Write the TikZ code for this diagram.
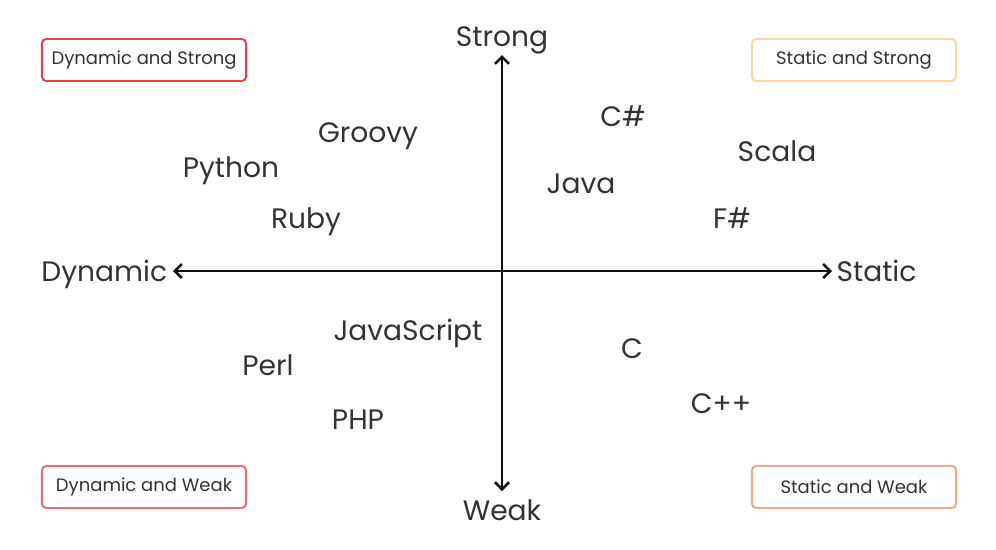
\documentclass[tikz,border=0pt]{standalone}
\usepackage{fontspec}
\setmainfont{Poppins}
\usepackage{xcolor}
\usepackage{tikz}
\usetikzlibrary{positioning,arrows.meta}
\definecolor{ink}{HTML}{333333}
\definecolor{axisc}{HTML}{111111}
\definecolor{dsred}{HTML}{E8414A}
\definecolor{dwred}{HTML}{EE6B6E}
\definecolor{ssorange}{HTML}{F9D6A6}
\definecolor{swsalmon}{HTML}{F4A58C}
\tikzset{
  axis/.style={line width=1.8pt, draw=axisc,
    {Straight Barb[length=5pt,width=10pt]}-{Straight Barb[length=5pt,width=10pt]}},
  axlab/.style={text=ink, font=\fontsize{20}{22}\selectfont, inner sep=0pt, text depth=0pt},
  lang/.style={text=ink, font=\fontsize{20}{22}\selectfont, inner sep=0pt, text depth=0pt},
  quad/.style={line width=1.4pt, rounded corners=3pt, fill=white,
    minimum width=5.1cm, minimum height=1.05cm, inner sep=0pt,
    text=ink, font=\fontsize{12.8}{14}\selectfont},
}

\begin{document}
\begin{tikzpicture}[x=0.025cm, y=-0.025cm]
  \useasboundingbox (0,0) rectangle (996,549);

  \coordinate (O) at (502,271);  % origin
  \coordinate (L) at (173,271);  % dynamic end
  \coordinate (R) at (832,271);  % static end
  \coordinate (T) at (502,55);   % strong end
  \coordinate (B) at (502,491);  % weak end
  \draw[axis] (L) -- (R);
  \draw[axis] (B) -- (T);

  \node[axlab, left=4pt of L] (dynamic) {Dynamic};
  \node[axlab, right=3pt of R] (static) {Static};
  \node[axlab, above=6pt of T] (strong) {Strong};
  \node[axlab, below=6pt of B] (weak) {Weak};

  % quadrant tags
  \node[quad, draw=dsred] (ds) at (144,60) {Dynamic and Strong};
  \node[quad, draw=ssorange] (ss) at (854,60) {Static and Strong};
  \node[quad, draw=dwred] (dw) at (144,487) {Dynamic and Weak};
  \node[quad, draw=swsalmon] (sw) at (854,487) {Static and Weak};

  % languages
  \node[lang] (groovy) at (368,133) {Groovy};
  \node[lang] (python) at (231,167) {Python};
  \node[lang] (ruby) at (306,218) {Ruby};
  \node[lang] (csharp) at (623,116) {C\#};
  \node[lang] (scala) at (777,151) {Scala};
  \node[lang] (java) at (581,184) {Java};
  \node[lang] (fsharp) at (732,218) {F\#};
  \node[lang] (js) at (408,330) {JavaScript};
  \node[lang] (perl) at (268,365) {Perl};
  \node[lang] (php) at (358,420) {PHP};
  \node[lang] (c) at (632,349) {C};
  \node[lang] (cpp) at (721,404) {C++};
\end{tikzpicture}
\end{document}
